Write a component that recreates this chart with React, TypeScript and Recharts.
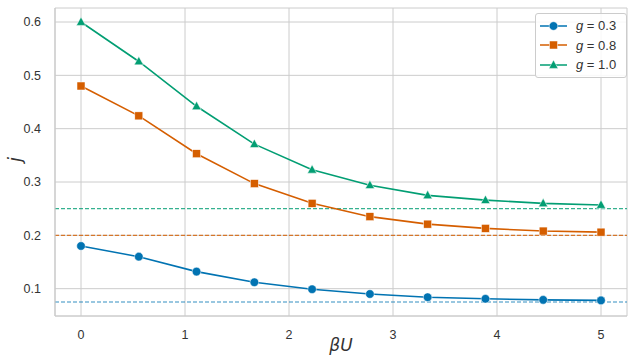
import React from 'react';
import {
  LineChart,
  Line,
  XAxis,
  YAxis,
  CartesianGrid,
  ReferenceLine,
} from 'recharts';

// βU sampled at 10 points between 0 and 5
const betaU = [0, 0.556, 1.111, 1.667, 2.222, 2.778, 3.333, 3.889, 4.444, 5];
const jG03 = [0.18, 0.16, 0.132, 0.112, 0.099, 0.09, 0.084, 0.081, 0.079, 0.078];
const jG08 = [0.48, 0.424, 0.353, 0.297, 0.26, 0.235, 0.221, 0.213, 0.208, 0.206];
const jG10 = [0.6, 0.526, 0.442, 0.371, 0.323, 0.294, 0.275, 0.266, 0.26, 0.257];
const limits = [0.075, 0.2, 0.25];

const xTicks = [0, 1, 2, 3, 4, 5];
const yTicks = [0.1, 0.2, 0.3, 0.4, 0.5, 0.6];

const BLUE = '#0173b2';
const ORANGE = '#d55e00';
const GREEN = '#029e73';

const series = [
  { key: 'g03', label: '0.3', color: BLUE, marker: 'circle' },
  { key: 'g08', label: '0.8', color: ORANGE, marker: 'square' },
  { key: 'g10', label: '1.0', color: GREEN, marker: 'triangle' },
];

const data = betaU.map((x, i) => ({ x, g03: jG03[i], g08: jG08[i], g10: jG10[i] }));

const FONT = '"Liberation Sans", Arial, sans-serif';
const TEXT = '#333333';
const GRID = '#cccccc';

function Marker({ cx, cy, kind, color }: { cx: number; cy: number; kind: string; color: string }) {
  if (cx == null || cy == null) return null;
  if (kind === 'square') {
    return <rect x={cx - 4} y={cy - 4} width={8} height={8} fill={color} stroke="#fff" strokeWidth={0.5} />;
  }
  if (kind === 'triangle') {
    return (
      <polygon
        points={`${cx},${cy - 5} ${cx - 4.6},${cy + 3.4} ${cx + 4.6},${cy + 3.4}`}
        fill={color}
        stroke="#fff"
        strokeWidth={0.5}
      />
    );
  }
  return <circle cx={cx} cy={cy} r={4.3} fill={color} stroke="#fff" strokeWidth={0.5} />;
}

function LegendBox() {
  return (
    <div
      style={{
        position: 'absolute',
        top: 13,
        right: 1,
        width: 82,
        border: `1px solid ${GRID}`,
        borderRadius: 3,
        background: 'rgba(255,255,255,0.85)',
        padding: '2px 4px 2px 4px',
        fontFamily: FONT,
        fontSize: 13,
        color: TEXT,
      }}
    >
      {series.map((s) => (
        <div key={s.key} style={{ display: 'flex', alignItems: 'center', height: 19.5 }}>
          <svg width={27} height={12} style={{ marginRight: 9 }}>
            <line x1={0} y1={6} x2={27} y2={6} stroke={s.color} strokeWidth={1.5} />
            <Marker cx={13.5} cy={6} kind={s.marker} color={s.color} />
          </svg>
          <span style={{ whiteSpace: 'nowrap' }}>
            <i>g</i> = {s.label}
          </span>
        </div>
      ))}
    </div>
  );
}

export default function App() {
  return (
    <div style={{ position: 'fixed', left: 0, top: 0, width: 628, height: 358, background: '#fff' }}>
      <LineChart width={628} height={358} data={data} margin={{ top: 8, right: 1, bottom: 0, left: 0 }}>
        <CartesianGrid stroke={GRID} strokeWidth={1} />
        <XAxis
          type="number"
          dataKey="x"
          domain={[-0.25, 5.25]}
          ticks={xTicks}
          allowDataOverflow
          height={42}
          tickLine={false}
          axisLine={{ stroke: GRID, strokeWidth: 1.2 }}
          tick={{ fontSize: 12.5, fill: TEXT, fontFamily: FONT }}
          tickMargin={8}
          label={{
            value: 'βU',
            position: 'insideBottom',
            offset: 7,
            style: { fontSize: 17, fontStyle: 'italic', fill: TEXT, fontFamily: '"DejaVu Sans", sans-serif' },
          }}
        />
        <XAxis xAxisId="top" type="number" dataKey="x" domain={[-0.25, 5.25]} orientation="top" height={0} tick={false} tickLine={false} axisLine={{ stroke: GRID, strokeWidth: 1.2 }} />
        <YAxis
          type="number"
          domain={[0.04875, 0.62625]}
          ticks={yTicks}
          allowDataOverflow
          width={55}
          tickLine={false}
          axisLine={{ stroke: GRID, strokeWidth: 1.2 }}
          tick={{ fontSize: 12.5, fill: TEXT, fontFamily: FONT }}
          tickMargin={8}
          label={{
            value: 'j',
            angle: -90,
            position: 'insideLeft',
            offset: 15,
            style: { fontSize: 18, fontStyle: 'italic', fill: TEXT, fontFamily: '"DejaVu Sans", sans-serif' },
          }}
        />
        <YAxis yAxisId="right" orientation="right" width={0} domain={[0.04875, 0.62625]} tick={false} tickLine={false} axisLine={{ stroke: GRID, strokeWidth: 1.2 }} />
        {limits.map((v, i) => (
          <ReferenceLine
            key={v}
            y={v}
            stroke={series[i].color}
            strokeOpacity={0.8}
            strokeWidth={1.1}
            strokeDasharray="4 2"
          />
        ))}
        {series.map((s) => (
          <Line
            key={s.key}
            dataKey={s.key}
            stroke={s.color}
            strokeWidth={1.6}
            isAnimationActive={false}
            type="linear"
            dot={(p: any) => <Marker key={`${s.key}-${p.index}`} cx={p.cx} cy={p.cy} kind={s.marker} color={s.color} />}
            activeDot={false}
          />
        ))}
      </LineChart>
      <LegendBox />
    </div>
  );
}
